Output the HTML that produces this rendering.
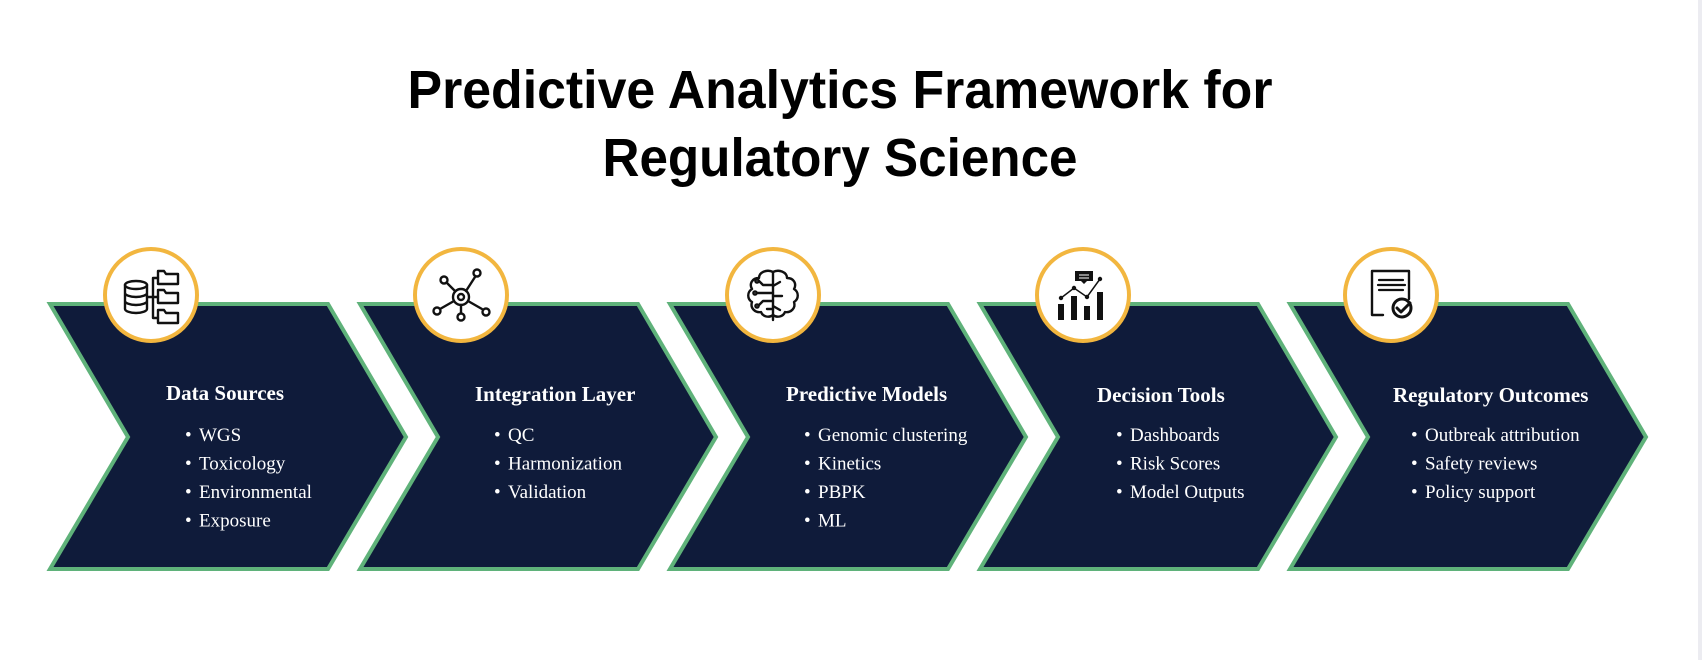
<!DOCTYPE html>
<html><head><meta charset="utf-8"><style>
html,body{margin:0;padding:0;background:#fff;width:1702px;height:660px;overflow:hidden}
svg{display:block}
.h{font-family:"Liberation Serif",serif;font-weight:bold;font-size:21px;fill:#fff}
.i{font-family:"Liberation Serif",serif;font-size:19px;fill:#fff}
.t{font-family:"Liberation Sans",sans-serif;font-weight:bold;font-size:54px;fill:#000}
.ic{fill:none;stroke:#111;stroke-width:2.4;stroke-linecap:round;stroke-linejoin:round}
</style></head><body>
<svg width="1702" height="660" viewBox="0 0 1702 660" xmlns="http://www.w3.org/2000/svg">
<rect x="1698" y="0" width="4" height="660" fill="#ececf1"/>
<text class="t" x="840" y="108" text-anchor="middle" textLength="865" lengthAdjust="spacingAndGlyphs">Predictive Analytics Framework for</text>
<text class="t" x="840" y="176" text-anchor="middle" textLength="475" lengthAdjust="spacingAndGlyphs">Regulatory Science</text>

<g stroke="#5fb27a" stroke-width="4" fill="#0f1b3a" stroke-linejoin="miter">
<polygon points="50,304 328,304 406,437 328,569 50,569 128,437"/>
<polygon points="360,304 638,304 716,437 638,569 360,569 438,437"/>
<polygon points="670,304 948,304 1026,437 948,569 670,569 748,437"/>
<polygon points="980,304 1258,304 1336,437 1258,569 980,569 1058,437"/>
<polygon points="1290,304 1568,304 1646,437 1568,569 1290,569 1368,437"/>
</g>

<g fill="#fff" stroke="#f2b63f" stroke-width="4">
<circle cx="151" cy="295" r="46"/>
<circle cx="461" cy="295" r="46"/>
<circle cx="773" cy="295" r="46"/>
<circle cx="1083" cy="295" r="46"/>
<circle cx="1391" cy="295" r="46"/>
</g>

<!-- icon 1: database + folders -->
<g class="ic">
<ellipse cx="136" cy="285" rx="11" ry="4"/>
<path d="M125 285v24c0 2 5 4 11 4s11-2 11-4v-24M125 293c0 2 5 4 11 4s11-2 11-4M125 301c0 2 5 4 11 4s11-2 11-4"/>
<path d="M147 297h6M153 278v40M153 278h5M153 297h5M153 318h5"/>
<path d="M158 271h6l2 3h12v10h-20z M158 290h6l2 3h12v10h-20z M158 310h6l2 3h12v10h-20z"/>
</g>
<!-- icon 2: network -->
<g class="ic">
<circle cx="461" cy="297" r="8"/><circle cx="461" cy="297" r="3"/>
<line x1="455" y1="291" x2="447" y2="283"/><circle cx="444" cy="280" r="3.5"/>
<line x1="466" y1="291" x2="475" y2="277"/><circle cx="477" cy="273" r="3.5"/>
<line x1="454" y1="301" x2="440" y2="309"/><circle cx="437" cy="311" r="3.5"/>
<line x1="468" y1="301" x2="482" y2="309"/><circle cx="486" cy="312" r="3.5"/>
<line x1="461" y1="305" x2="461" y2="313"/><circle cx="461" cy="317" r="3.5"/>
</g>
<!-- icon 3: brain -->
<g class="ic" stroke-width="2">
<path d="M773 272v48M773 272c-6-3-14 0-14 6-7 0-10 6-7 11-5 3-5 10 0 13-2 6 3 11 9 10 2 5 8 6 12 3"/>
<path d="M773 272c6-3 14 0 14 6 7 0 10 6 7 11 5 3 5 10 0 13 2 6-3 11-9 10-2 5-8 6-12 3"/>
<path d="M773 285h-10l-4-4M773 293h-16M773 301h-10l-4 4M773 309h-6"/>
<path d="M773 286l7-4M773 296l9 0M773 306l7 4"/>
<circle cx="757" cy="281" r="1.6"/><circle cx="755" cy="293" r="1.6"/><circle cx="757" cy="306" r="1.6"/>
</g>
<!-- icon 4: chart -->
<g>
<rect x="1058" y="304" width="6" height="16" fill="#111"/>
<rect x="1071" y="296" width="6" height="24" fill="#111"/>
<rect x="1084" y="306" width="6" height="14" fill="#111"/>
<rect x="1097" y="292" width="6" height="28" fill="#111"/>
<polyline points="1061,298 1074,288 1087,297 1100,279" fill="none" stroke="#111" stroke-width="1.5"/>
<circle cx="1061" cy="298" r="2.2" fill="#111"/><circle cx="1074" cy="288" r="2.2" fill="#111"/><circle cx="1087" cy="297" r="2.2" fill="#111"/><circle cx="1100" cy="279" r="2.2" fill="#111"/>
<path d="M1075 271h18v10h-6l-3 3-3-3h-6z" fill="#111"/>
<path d="M1079 275h10M1079 278h10" stroke="#fff" stroke-width="1"/>
</g>
<!-- icon 5: document check -->
<g class="ic">
<path d="M1383 315h-11v-44h37v28"/>
<path d="M1379 280h24M1378 285h27M1379 290h24" stroke-width="2.2"/>
<circle cx="1402" cy="308" r="9" stroke-width="3"/>
<path d="M1397 308l4 4 9-9" stroke-width="3"/>
</g>

<!-- text -->
<text class="h" x="166" y="400">Data Sources</text>
<g class="i">
<text x="185" y="441">•</text><text x="199" y="441">WGS</text>
<text x="185" y="469.5">•</text><text x="199" y="469.5">Toxicology</text>
<text x="185" y="498">•</text><text x="199" y="498">Environmental</text>
<text x="185" y="526.5">•</text><text x="199" y="526.5">Exposure</text>
</g>
<text class="h" x="475" y="401">Integration Layer</text>
<g class="i">
<text x="494" y="441">•</text><text x="508" y="441">QC</text>
<text x="494" y="469.5">•</text><text x="508" y="469.5">Harmonization</text>
<text x="494" y="498">•</text><text x="508" y="498">Validation</text>
</g>
<text class="h" x="786" y="401">Predictive Models</text>
<g class="i">
<text x="804" y="441">•</text><text x="818" y="441">Genomic clustering</text>
<text x="804" y="469.5">•</text><text x="818" y="469.5">Kinetics</text>
<text x="804" y="498">•</text><text x="818" y="498">PBPK</text>
<text x="804" y="526.5">•</text><text x="818" y="526.5">ML</text>
</g>
<text class="h" x="1097" y="402">Decision Tools</text>
<g class="i">
<text x="1116" y="441">•</text><text x="1130" y="441">Dashboards</text>
<text x="1116" y="469.5">•</text><text x="1130" y="469.5">Risk Scores</text>
<text x="1116" y="498">•</text><text x="1130" y="498">Model Outputs</text>
</g>
<text class="h" x="1393" y="402">Regulatory Outcomes</text>
<g class="i">
<text x="1411" y="441">•</text><text x="1425" y="441">Outbreak attribution</text>
<text x="1411" y="469.5">•</text><text x="1425" y="469.5">Safety reviews</text>
<text x="1411" y="498">•</text><text x="1425" y="498">Policy support</text>
</g>
</svg>
</body></html>
